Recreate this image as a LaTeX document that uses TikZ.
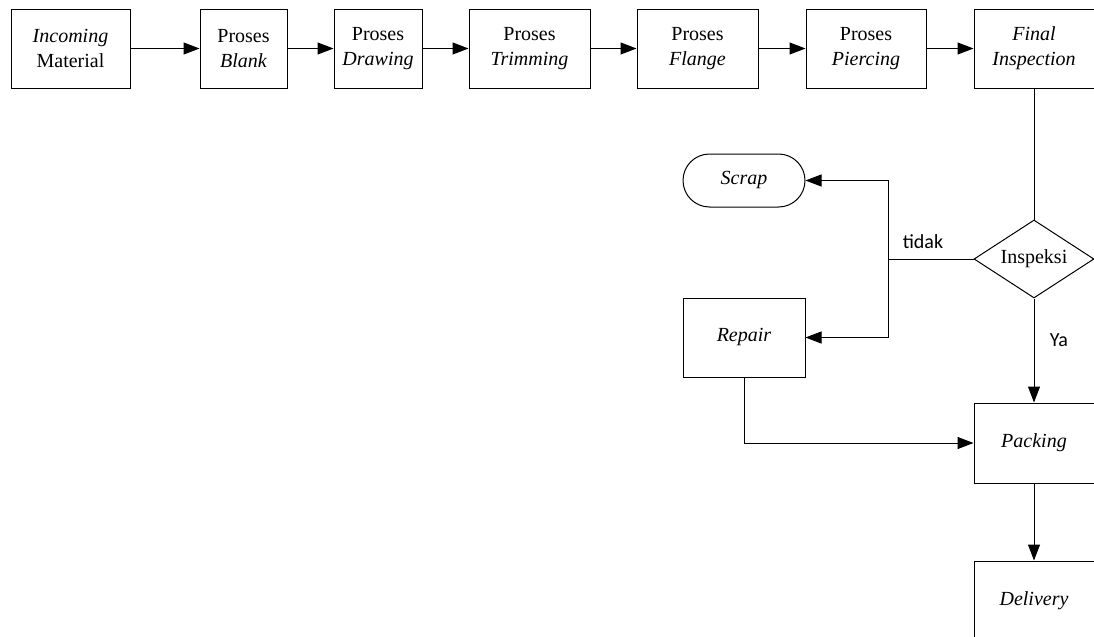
\documentclass[tikz,border=0pt]{standalone}
\usepackage{fontspec}
\setmainfont{Liberation Serif}
\newfontfamily\labelfont{Carlito}
\usepackage{tikz}
\usetikzlibrary{arrows.meta,shapes.geometric,shapes.misc,positioning}

\begin{document}
\begin{tikzpicture}[x=0.5pt, y=-0.5pt, line width=0.5pt,
    box/.style={draw, rectangle, align=center, inner sep=0pt, minimum height=39.5pt,
        font=\fontsize{10}{12.5}\selectfont},
    flowarrow/.style={-{Triangle[length=8pt,width=6pt]}},
    yesno/.style={font=\labelfont\fontsize{10}{12}\selectfont}]
    \useasboundingbox (0,0) rectangle (1094,637);

    % Process line
    \node[box, minimum width=59.5pt] (incoming) at (70.5,48.5) {\textit{Incoming}\\Material};
    \node[box, minimum width=43.5pt] (blank) at (243.5,48.5) {Proses\\\textit{Blank}};
    \node[box, minimum width=44pt] (drawing) at (378,48.5) {Proses\\\textit{Drawing}};
    \node[box, minimum width=60.5pt] (trimming) at (529.5,48.5) {Proses\\\textit{Trimming}};
    \node[box, minimum width=60.5pt] (flange) at (697.5,48.5) {Proses\\\textit{Flange}};
    \node[box, minimum width=60pt] (piercing) at (866,48.5) {Proses\\\textit{Piercing}};
    \node[box, minimum width=60pt] (final) at (1034,48.5) {\textit{Final}\\\textit{Inspection}};

    \draw[flowarrow] (incoming) -- (blank);
    \draw[flowarrow] (blank) -- (drawing);
    \draw[flowarrow] (drawing) -- (trimming);
    \draw[flowarrow] (trimming) -- (flange);
    \draw[flowarrow] (flange) -- (piercing);
    \draw[flowarrow] (piercing) -- (final);

    % Inspection and result
    \node[draw, diamond, aspect=1.54, inner sep=0pt, minimum width=60pt, minimum height=39pt,
        font=\fontsize{10}{12}\selectfont] (inspeksi) at (1034,259) {Inspeksi};
    \node[draw, rounded rectangle, inner sep=0pt, minimum width=61pt, minimum height=26.5pt,
        font=\fontsize{10}{12}\selectfont] (scrap) at (744,180.5) {\textit{Scrap}};
    \node[box, minimum width=61pt] (repair) at (744,337.5) {\textit{Repair}};
    \node[box, minimum width=60pt, minimum height=40pt] (packing) at (1034,443) {\textit{Packing}};
    \node[box, minimum width=60pt, minimum height=40pt] (delivery) at (1034,601) {\textit{Delivery}};
    \coordinate (split) at (888,259);

    \draw (final) -- (inspeksi);
    \draw (inspeksi.west) -- (split);
    \draw[flowarrow] (split) |- (scrap.east);
    \draw[flowarrow] (split) |- (repair.east);
    \draw[flowarrow] (inspeksi) -- (packing);
    \draw[flowarrow] (repair.south) |- (packing.west);
    \draw[flowarrow] (packing) -- (delivery);

    \node[yesno] (tidak) at (923,242) {tidak};
    \node[yesno] (ya) at (1059,340) {Ya};
\end{tikzpicture}
\end{document}
